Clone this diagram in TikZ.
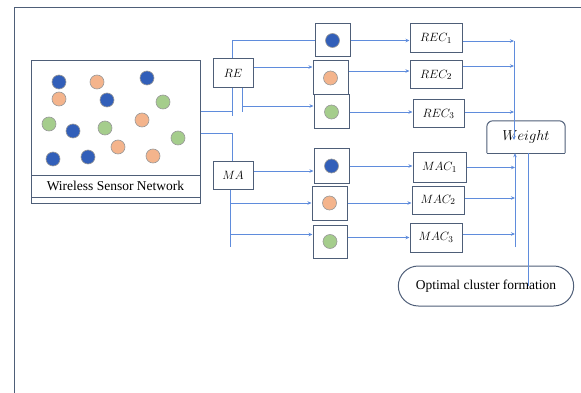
\documentclass[tikz,border=0pt]{standalone}
\usepackage{fontspec}
\setmainfont{Liberation Serif}
\usepackage{amsmath}
\usepackage{tikz}
\usetikzlibrary{arrows.meta,shapes.misc}

\definecolor{linkblue}{RGB}{95,140,220}
\definecolor{boxgray}{RGB}{78,94,120}
\definecolor{dotblue}{RGB}{50,95,185}
\definecolor{dotorange}{RGB}{244,180,140}
\definecolor{dotgreen}{RGB}{165,205,140}

\tikzset{
  box/.style={draw=boxgray, line width=1pt, fill=white, inner sep=0pt},
  lbl/.style={box, font=\fontsize{12.5}{14}\selectfont},
  link/.style={draw=linkblue, line width=0.9pt},
  flow/.style={link, -{Stealth[length=4pt,width=3.5pt]}},
  sensor/.style={circle, draw=gray!80, line width=0.6pt, minimum size=14pt, inner sep=0pt},
}

\begin{document}
\begin{tikzpicture}[x=1pt, y=-1pt]
\useasboundingbox (0,0) rectangle (581,393);
\draw[boxgray, line width=1pt] (14,393) -- (14,8) -- (581,8);

%nodes
\node (wsn) [box, fill=none, minimum width=169pt, minimum height=142pt] at (115.5,132) {};
\node (wsnlabel) [box, fill=none, minimum width=169pt, minimum height=22pt,
  font=\fontsize{13.5}{15}\selectfont] at (115.5,186) {Wireless Sensor Network};
\foreach \x/\y in {59/82, 147/78, 107/100, 73/131, 53/159, 88/157}
  \node[sensor, fill=dotblue] at (\x,\y) {};
\foreach \x/\y in {97/82, 59/99, 142/120, 118/147, 153/156}
  \node[sensor, fill=dotorange] at (\x,\y) {};
\foreach \x/\y in {163/102, 49/124, 105/128, 178/138}
  \node[sensor, fill=dotgreen] at (\x,\y) {};

\coordinate (reB) at (232,111);
\coordinate (reX) at (232,116);
\coordinate (reG) at (242,82);
\coordinate (reH) at (242,112);
\coordinate (maT) at (232,133);
\coordinate (maB) at (230,247);
\coordinate (colTop) at (514,41);
\coordinate (colBot) at (515,247);

% links drawn first, boxes sit on top
\draw[link] (wsn.east |- reB) -- (reB);
\draw[flow] (reX) |- (332,40);
\draw[link] (reG) -- (reH);
\draw[link] (wsn.east |- maT) -- (maT) -- (maT |- 0,162);

\node (re) [lbl, minimum width=40pt, minimum height=29pt] at (233,73.5) {$RE$};
\node (ma) [lbl, minimum width=40pt, minimum height=27pt] at (233,175.5) {$MA$};

\node (b1) [box, minimum width=35pt, minimum height=33pt] at (332.5,40.5) {};
\node (o1) [box, minimum width=35pt, minimum height=34pt] at (330.5,78) {};
\node (g1) [box, minimum width=35pt, minimum height=34pt] at (331.5,112) {};
\node (b2) [box, minimum width=35pt, minimum height=34pt] at (331.5,166) {};
\node (o2) [box, minimum width=35pt, minimum height=34pt] at (329.5,203) {};
\node (g2) [box, minimum width=34pt, minimum height=33pt] at (330,241.5) {};
\node[sensor, fill=dotblue] at (b1) {};
\node[sensor, fill=dotorange] at (o1) {};
\node[sensor, fill=dotgreen] at (g1) {};
\node[sensor, fill=dotblue] at (b2) {};
\node[sensor, fill=dotorange] at (o2) {};
\node[sensor, fill=dotgreen] at (g2) {};

\node (rec1) [lbl, minimum width=52pt, minimum height=29pt] at (436,38.5) {$REC_1$};
\node (rec2) [lbl, minimum width=52pt, minimum height=28pt] at (436,75) {$REC_2$};
\node (rec3) [lbl, minimum width=51pt, minimum height=28pt] at (438.5,114) {$REC_3$};
\node (mac1) [lbl, minimum width=53pt, minimum height=29pt] at (439.5,167.5) {$MAC_1$};
\node (mac2) [lbl, minimum width=52pt, minimum height=28pt] at (438,200) {$MAC_2$};
\node (mac3) [lbl, minimum width=52pt, minimum height=29pt] at (436,237.5) {$MAC_3$};

\node (weight) [minimum width=78pt, minimum height=32pt, inner sep=0pt,
  font=\fontsize{13.5}{15}\selectfont] at (526,137) {$Weight$};
\draw[boxgray, line width=1pt, rounded corners=6pt]
  (weight.south west) -- (weight.north west) -- (weight.north east) -- (weight.south east);
\draw[boxgray, line width=1pt] (weight.south west) -- (weight.south east);

\node (opt) [rounded rectangle, draw=boxgray, line width=1pt, minimum width=182pt,
  minimum height=40pt, font=\fontsize{13.5}{15}\selectfont] at (486,286) {Optimal cluster formation};

%links
\draw[flow] ([yshift=6.5pt]re.east) -- ([yshift=6.5pt]re.east -| o1.west);
\draw[flow] (reH |- 0,106) -- (g1.west |- 0,106);
\draw[flow] ([yshift=4.5pt]ma.east) -- ([yshift=4.5pt]ma.east -| b2.west);
\draw[link] (ma.south -| maB) -- (maB);
\draw[flow] (maB |- o2.west) -- (o2.west);
\draw[flow] ([yshift=7pt]g2.west -| maB) -- ([yshift=7pt]g2.west);

\draw[flow] (b1.east) -- (b1.east -| rec1.west);
\draw[flow] ([yshift=4pt]rec2.west -| o1.east) -- ([yshift=4pt]rec2.west);
\draw[flow] (g1.east) -- (g1.east -| rec3.west);
\draw[flow] (b2.east) -- (b2.east -| mac1.west);
\draw[flow] (o2.east) -- (o2.east -| mac2.west);
\draw[flow] (mac3.west -| g2.east) -- (mac3.west);

\draw[flow] ([yshift=-2.5pt]rec1.east) -- ([yshift=-2.5pt]rec1.east -| colTop);
\draw[flow] ([yshift=9pt]rec2.east) -- ([yshift=9pt]rec2.east -| colTop);
\draw[flow] ([yshift=2pt]rec3.east) -- ([yshift=2pt]rec3.east -| colTop);
\draw[flow] (colTop) -- (colTop |- 0,140);

\draw[flow] (mac1.east) -- (mac1.east -| colBot);
\draw[flow] ([yshift=2pt]mac2.east) -- ([yshift=2pt]mac2.east -| colBot);
\draw[flow] ([yshift=3.5pt]mac3.east) -- ([yshift=3.5pt]mac3.east -| colBot);
\draw[flow] (colBot) -- (colBot |- weight.south);

\draw[link] ([xshift=2pt]weight.south) -- ([xshift=2pt]weight.south |- opt.center);
\end{tikzpicture}
\end{document}
